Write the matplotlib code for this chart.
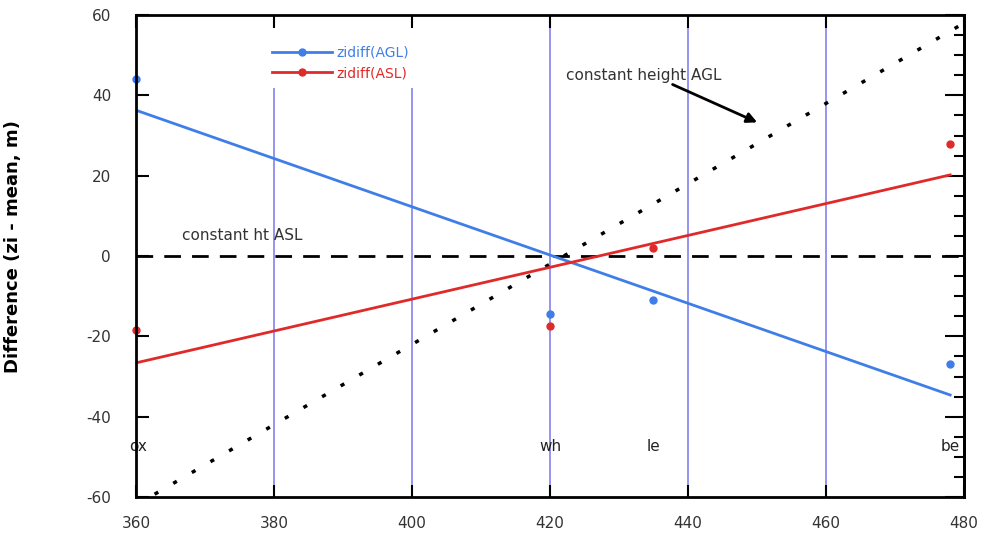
import matplotlib.pyplot as plt
from matplotlib.lines import Line2D
from matplotlib.patches import Rectangle
from matplotlib.ticker import MultipleLocator

plt.rcParams['axes.unicode_minus'] = False

# observed points
site_x = [360, 420, 435, 478]
site_names = ['ox', 'wh', 'le', 'be']
agl_pts = [44, -14.5, -11, -27]
asl_pts = [-18.5, -17.5, 2, 28]

# fitted lines (end points)
fit_x = [360, 478]
agl_fit = [36.3, -34.6]
asl_fit = [-26.6, 20.2]

# constant height AGL reference (dotted)
agl_ref_x = [360, 482]
agl_ref_y = [-62, 60]

vlines_x = [380, 400, 420, 440, 460]

blue = '#3f7ee8'
red = '#e02a2a'

fig = plt.figure(figsize=(9.9, 5.38), dpi=100)
ax = fig.add_axes([0.1374, 0.0762, 0.8363, 0.8958])

for xv in vlines_x:
    ax.axvline(xv, color='#7070ee', lw=1.3, alpha=0.8, zorder=1)

ax.axhline(0, color='black', lw=2, ls=(0, (6, 4)), zorder=2)
ax.plot(agl_ref_x, agl_ref_y, color='black', lw=2.5, ls=(0, (1.2, 5)), zorder=2)

ax.plot(fit_x, agl_fit, color=blue, lw=2, zorder=3)
ax.plot(fit_x, asl_fit, color=red, lw=2, zorder=3)
ax.plot(site_x, agl_pts, 'o', color=blue, ms=5, zorder=4, clip_on=False)
ax.plot(site_x, asl_pts, 'o', color=red, ms=5, zorder=4, clip_on=False)

for xv, name in zip(site_x, site_names):
    ha = 'left' if xv == 360 else 'center'
    xx = 359 if xv == 360 else xv
    ax.text(xx, -47.5, name, ha=ha, va='center', fontsize=11, color='#222222')

ax.text(366.7, 5, 'constant ht ASL', ha='left', va='center', fontsize=11, color='#333333')
ax.text(422.3, 45, 'constant height AGL', ha='left', va='center', fontsize=11, color='#333333')
ax.annotate('', xy=(450.4, 33), xytext=(437.4, 43),
            arrowprops=dict(arrowstyle='-|>', color='black', lw=2, mutation_scale=15))

# white block behind the legend hides the grid lines there
ax.add_patch(Rectangle((0.156, 0.849), 0.217, 0.151, transform=ax.transAxes,
                       facecolor='white', edgecolor='none', zorder=1.5))

handles = [Line2D([], [], color=blue, lw=2, marker='o', ms=5, markevery=[1]),
           Line2D([], [], color=red, lw=2, marker='o', ms=5, markevery=[1])]
for h in handles:
    h.set_xdata([0, 0.5, 1])
leg = ax.legend(handles, ['zidiff(AGL)', 'zidiff(ASL)'], loc='upper left',
                bbox_to_anchor=(0.164, 0.936), frameon=False, fontsize=10,
                handlelength=4.3, handletextpad=0.35, labelspacing=0.45,
                borderpad=0, borderaxespad=0)
for t, c in zip(leg.get_texts(), [blue, red]):
    t.set_color(c)

ax.set_xlim(360, 480)
ax.set_ylim(-60, 60)
ax.xaxis.set_major_locator(MultipleLocator(20))
ax.yaxis.set_major_locator(MultipleLocator(20))
ax.tick_params(which='both', direction='in', top=True, right=False,
               labelsize=11, labelcolor='#333333', color='black', width=1.5,
               length=9)
ax.tick_params(axis='y', pad=18)
ax.tick_params(axis='x', pad=14)
for s in ax.spines.values():
    s.set_linewidth(2)
    s.set_zorder(5)

# right side carries its own finer ticks
secy = ax.secondary_yaxis('right')
secy.yaxis.set_major_locator(MultipleLocator(20))
secy.yaxis.set_minor_locator(MultipleLocator(5))
secy.tick_params(which='both', direction='in', labelright=False, width=1.5)
secy.tick_params(which='major', length=14)
secy.tick_params(which='minor', length=7)
secy.spines['right'].set_linewidth(2)

ax.set_ylabel('Difference (zi - mean, m)', fontsize=13, fontweight='bold')
ax.yaxis.set_label_coords(-0.138, 0.52)

fig.savefig('out.png', dpi=100)
